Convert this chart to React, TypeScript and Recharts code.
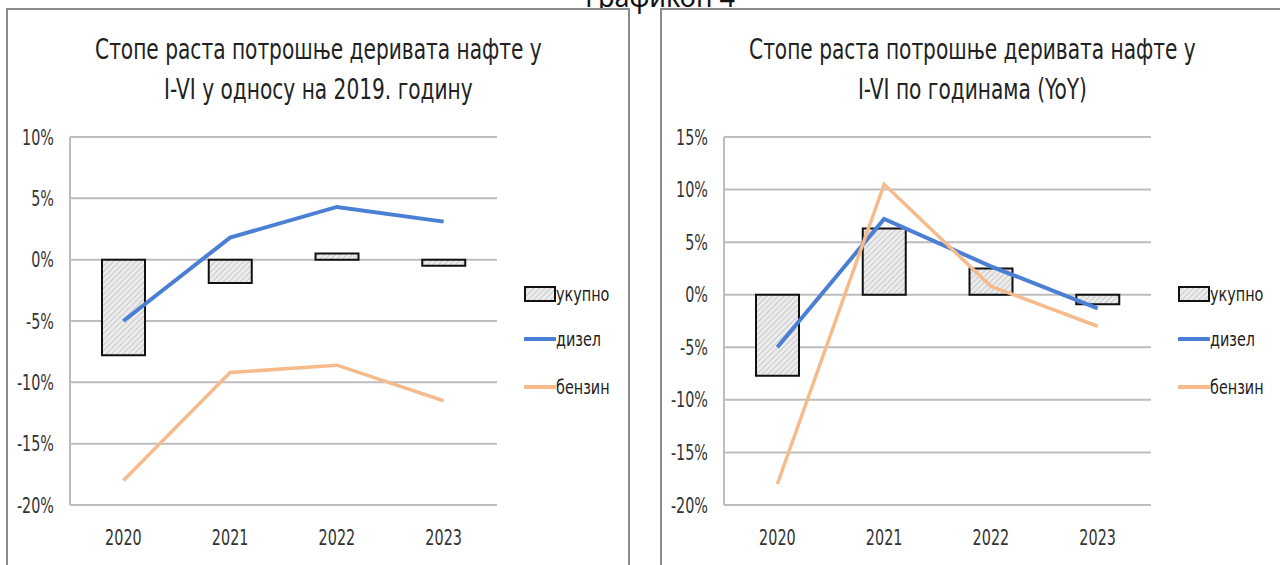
import React from 'react';
import {
  ComposedChart,
  Bar,
  Line,
  XAxis,
  YAxis,
  CartesianGrid,
} from 'recharts';

// categories
const years = ['2020', '2021', '2022', '2023'];

// left chart: I-VI vs 2019 (%)
const totalVs2019 = [-7.8, -1.9, 0.5, -0.5];
const dieselVs2019 = [-5.0, 1.8, 4.3, 3.1];
const petrolVs2019 = [-18.0, -9.2, -8.6, -11.5];

// right chart: year-on-year (%)
const totalYoY = [-7.7, 6.3, 2.5, -0.9];
const dieselYoY = [-5.0, 7.2, 2.7, -1.3];
const petrolYoY = [-18.0, 10.5, 0.8, -3.0];

const leftTicks = [-20, -15, -10, -5, 0, 5, 10];
const rightTicks = [-20, -15, -10, -5, 0, 5, 10, 15];

const NARROW = '"Liberation Sans Narrow", "DejaVu Sans Condensed", "Arial Narrow", sans-serif';
const BLUE = '#4a7fd4';
const ORANGE = '#f6bb8c';
const GRID = '#bdbdbd';
// the source picture is squeezed sideways, so text is narrowed to match
const SQUEEZE = 0.76;

const buildRows = (total: number[], diesel: number[], petrol: number[]) =>
  years.map((year, i) => ({
    year,
    ukupno: total[i],
    dizel: diesel[i],
    benzin: petrol[i],
  }));

const leftData = buildRows(totalVs2019, dieselVs2019, petrolVs2019);
const rightData = buildRows(totalYoY, dieselYoY, petrolYoY);

const YTick = (props: any) => {
  const { x, y, payload } = props;
  return (
    <g transform={`translate(${x},${y})`}>
      <text
        transform={`scale(${SQUEEZE},1)`}
        textAnchor="end"
        dy="0.36em"
        fontFamily={NARROW}
        fontSize={21}
        fill="#333"
      >
        {`${payload.value}%`}
      </text>
    </g>
  );
};

const XTick = (props: any) => {
  const { x, y, payload } = props;
  return (
    <g transform={`translate(${x},${y})`}>
      <text
        transform={`scale(${SQUEEZE},1)`}
        textAnchor="middle"
        dy="0.36em"
        fontFamily={NARROW}
        fontSize={21}
        fill="#333"
      >
        {payload.value}
      </text>
    </g>
  );
};

const legendText: React.CSSProperties = {
  display: 'inline-block',
  transform: 'scaleX(0.8)',
  transformOrigin: 'left center',
};

const LegendBox = ({ hatchId }: { hatchId: string }) => (
  <div
    style={{
      position: 'absolute',
      left: 516,
      top: 272,
      width: 110,
      fontFamily: NARROW,
      fontSize: 20,
      color: '#222',
    }}
  >
    <div style={{ display: 'flex', alignItems: 'center', height: 24, marginBottom: 21 }}>
      <svg width={32} height={16}>
        <rect x={1} y={1} width={30} height={14} fill={`url(#${hatchId})`} stroke="#111" strokeWidth={2} />
      </svg>
      <span style={legendText}>укупно</span>
    </div>
    <div style={{ display: 'flex', alignItems: 'center', height: 24, marginBottom: 24 }}>
      <svg width={32} height={16}>
        <line x1={1} y1={8} x2={31} y2={8} stroke={BLUE} strokeWidth={4} strokeLinecap="round" />
      </svg>
      <span style={legendText}>дизел</span>
    </div>
    <div style={{ display: 'flex', alignItems: 'center', height: 24 }}>
      <svg width={32} height={16}>
        <line x1={1} y1={8} x2={31} y2={8} stroke={ORANGE} strokeWidth={4} strokeLinecap="round" />
      </svg>
      <span style={legendText}>бензин</span>
    </div>
  </div>
);

interface PanelProps {
  left: number;
  title: string[];
  data: { year: string; ukupno: number; dizel: number; benzin: number }[];
  domain: [number, number];
  ticks: number[];
  hatchId: string;
}

const Panel: React.FC<PanelProps> = ({ left, title, data, domain, ticks, hatchId }) => (
  <div
    style={{
      position: 'absolute',
      left,
      top: 8,
      width: 620,
      height: 600,
      border: '2px solid #8a8a8a',
      background: '#fff',
    }}
  >
    <div
      style={{
        position: 'absolute',
        left: 0,
        top: 20,
        width: 620,
        textAlign: 'center',
        fontFamily: NARROW,
        fontSize: 28,
        lineHeight: '40px',
        color: '#222',
        transform: 'scaleX(0.8)',
        transformOrigin: '312px 0',
      }}
    >
      {title.map((t) => (
        <div key={t}>{t}</div>
      ))}
    </div>
    <ComposedChart
      width={620}
      height={557}
      data={data}
      margin={{ top: 127, right: 131, bottom: 22, left: 0 }}
    >
      <defs>
        <pattern id={hatchId} width={4} height={4} patternUnits="userSpaceOnUse" patternTransform="rotate(45)">
          <rect width={4} height={4} fill="#ececec" />
          <line x1={0} y1={0} x2={0} y2={4} stroke="#b4b4b4" strokeWidth={1.2} />
        </pattern>
      </defs>
      <CartesianGrid vertical={false} stroke={GRID} strokeWidth={2} />
      <XAxis
        dataKey="year"
        axisLine={false}
        tickLine={false}
        tickSize={0}
        tickMargin={32}
        height={40}
        tick={<XTick />}
      />
      <YAxis
        domain={domain}
        ticks={ticks}
        interval={0}
        width={62}
        axisLine={{ stroke: GRID, strokeWidth: 2 }}
        tickLine={false}
        tickSize={0}
        tickMargin={16}
        tick={<YTick />}
      />
      <Bar
        dataKey="ukupno"
        barSize={43}
        fill={`url(#${hatchId})`}
        stroke="#111"
        strokeWidth={2}
        isAnimationActive={false}
      />
      <Line
        dataKey="dizel"
        stroke={BLUE}
        strokeWidth={4}
        dot={false}
        isAnimationActive={false}
      />
      <Line
        dataKey="benzin"
        stroke={ORANGE}
        strokeWidth={3.5}
        dot={false}
        isAnimationActive={false}
      />
    </ComposedChart>
    <LegendBox hatchId={hatchId} />
  </div>
);

export default function App() {
  return (
    <div
      style={{
        position: 'absolute',
        left: 0,
        top: 0,
        width: 1280,
        height: 565,
        overflow: 'hidden',
        background: '#fff',
      }}
    >
      <div
        style={{
          position: 'absolute',
          left: 560,
          top: -17,
          width: 200,
          textAlign: 'center',
          fontFamily: '"Noto Sans", sans-serif',
          fontSize: 27,
          lineHeight: '27px',
          color: '#111',
        }}
      >
        Графикон 4
      </div>
      <Panel
        left={6}
        title={['Стопе раста потрошње деривата нафте у', 'I-VI у односу на 2019. годину']}
        data={leftData}
        domain={[-20, 10]}
        ticks={leftTicks}
        hatchId="hatchLeft"
      />
      <Panel
        left={660}
        title={['Стопе раста потрошње деривата нафте у', 'I-VI по годинама (YoY)']}
        data={rightData}
        domain={[-20, 15]}
        ticks={rightTicks}
        hatchId="hatchRight"
      />
    </div>
  );
}
